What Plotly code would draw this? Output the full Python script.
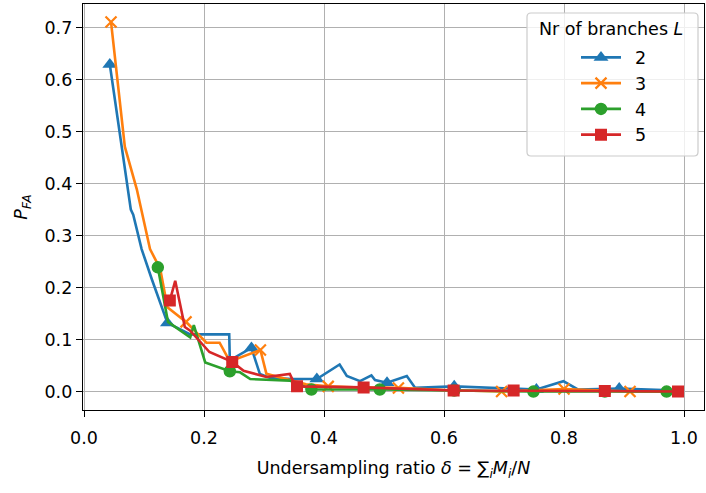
import plotly.graph_objects as go

# ---------------- data ----------------
L2_x = [0.043, 0.063, 0.078, 0.082, 0.096, 0.113, 0.139, 0.177, 0.242, 0.243, 0.279, 0.293,
        0.310, 0.350, 0.388, 0.426, 0.438, 0.460, 0.479, 0.485, 0.505, 0.538, 0.552, 0.617,
        0.754, 0.799, 0.823, 0.892, 0.990]
L2_y = [0.629, 0.465, 0.350, 0.340, 0.274, 0.216, 0.132, 0.110, 0.110, 0.060, 0.084, 0.034,
        0.026, 0.024, 0.024, 0.052, 0.030, 0.020, 0.031, 0.022, 0.017, 0.030, 0.007, 0.010,
        0.004, 0.020, 0.004, 0.006, 0.002]
L2_marks = [0, 6, 10, 14, 20, 23, 24, 27]

L3_x = [0.045, 0.068, 0.088, 0.110, 0.127, 0.139, 0.170, 0.190, 0.204, 0.226, 0.243, 0.294,
        0.304, 0.343, 0.370, 0.407, 0.450, 0.524, 0.600, 0.696, 0.750, 0.800, 0.910, 0.990]
L3_y = [0.711, 0.471, 0.389, 0.274, 0.236, 0.162, 0.134, 0.110, 0.094, 0.094, 0.058, 0.080,
        0.034, 0.022, 0.014, 0.010, 0.008, 0.007, 0.003, 0.000, 0.003, 0.005, 0.000, 0.000]
L3_marks = [0, 6, 11, 15, 17, 19, 21, 22]

L4_x = [0.123, 0.140, 0.177, 0.183, 0.202, 0.243, 0.260, 0.277, 0.343, 0.379, 0.493, 0.617,
        0.749, 0.868, 0.971]
L4_y = [0.239, 0.134, 0.104, 0.128, 0.056, 0.039, 0.037, 0.024, 0.021, 0.004, 0.004, 0.002,
        0.000, 0.000, 0.000]
L4_marks = [0, 5, 9, 10, 11, 12, 13, 14]

L5_x = [0.143, 0.152, 0.168, 0.177, 0.209, 0.238, 0.247, 0.266, 0.304, 0.343, 0.350, 0.355,
        0.466, 0.616, 0.716, 0.868, 0.990]
L5_y = [0.175, 0.213, 0.124, 0.117, 0.076, 0.062, 0.057, 0.040, 0.028, 0.034, 0.017, 0.010,
        0.008, 0.002, 0.002, 0.001, 0.000]
L5_marks = [0, 6, 11, 12, 13, 14, 15, 16]

series_names = ["2", "3", "4", "5"]
x_ticks = [0.0, 0.2, 0.4, 0.6, 0.8, 1.0]
y_ticks = [0.0, 0.1, 0.2, 0.3, 0.4, 0.5, 0.6, 0.7]

# ---------------- styles ----------------
colors = ["#1f77b4", "#ff7f0e", "#2ca02c", "#d62728"]
symbols = ["triangle-up", "x-thin", "circle", "square"]
msizes = [13, 11, 11, 10.5]
mlinew = [0, 2.2, 1.5, 1.5]
FONT = "DejaVu Sans"
FS = 17.5

fig = go.Figure()

all_series = [(L2_x, L2_y, L2_marks), (L3_x, L3_y, L3_marks),
              (L4_x, L4_y, L4_marks), (L5_x, L5_y, L5_marks)]

for k, (xs, ys, marks) in enumerate(all_series):
    sizes = [msizes[k] if i in marks else 0 for i in range(len(xs))]
    fig.add_trace(go.Scatter(
        x=xs, y=ys, mode="lines+markers", showlegend=False,
        line=dict(color=colors[k], width=2.6),
        marker=dict(symbol=symbols[k], size=sizes, color=colors[k], opacity=1,
                    line=dict(color=colors[k], width=mlinew[k])),
        hoverinfo="skip"))

for k in range(4):
    fig.add_trace(go.Scatter(
        x=[None], y=[None], mode="lines+markers", name="\u00a0\u2009" + series_names[k],
        line=dict(color=colors[k], width=2.6),
        marker=dict(symbol=symbols[k], size=msizes[k], color=colors[k], opacity=1,
                    line=dict(color=colors[k], width=mlinew[k]))))

axis_common = dict(
    showline=True, mirror=True, linecolor="black", linewidth=1.4,
    ticks="outside", ticklen=6, tickwidth=1.4, tickcolor="black",
    showgrid=True, gridcolor="#b0b0b0", gridwidth=1.4, zeroline=False,
    tickfont=dict(family=FONT, size=FS, color="black"),
    tickformat=".1f", automargin=False,
)

fig.update_xaxes(range=[-0.0017, 1.0333], tickvals=x_ticks, ticklabelstandoff=6,
                 title=dict(text="Undersampling ratio <i>δ</i> = ∑<sub><i>i</i></sub><i>M</i><sub><i>i</i></sub>/<i>N</i>",
                            font=dict(family=FONT, size=FS, color="black"), standoff=14),
                 **axis_common)
fig.update_yaxes(range=[-0.0355, 0.7455], tickvals=y_ticks,
                 title=dict(text="<i>P</i><sub><i>FA</i></sub>",
                            font=dict(family=FONT, size=FS, color="black"), standoff=12),
                 **axis_common)

# legend frame (matplotlib-like box with rounded corners)
x0, x1 = (527 - 83) / 621, (698 - 83) / 621
y1, y0 = 1 - (13 - 4) / 406, 1 - (156 - 4) / 406
rx, ry = 4 / 621, 4 / 406
path = (f"M{x0+rx},{y1} L{x1-rx},{y1} Q{x1},{y1} {x1},{y1-ry} "
        f"L{x1},{y0+ry} Q{x1},{y0} {x1-rx},{y0} L{x0+rx},{y0} "
        f"Q{x0},{y0} {x0},{y0+ry} L{x0},{y1-ry} Q{x0},{y1} {x0+rx},{y1} Z")
fig.add_shape(type="path", path=path, xref="paper", yref="paper",
              fillcolor="rgba(255,255,255,0.8)", line=dict(color="#cccccc", width=1.2),
              layer="above")
fig.add_annotation(text="Nr of branches <i>L</i>", xref="paper", yref="paper",
                   x=(611 - 83) / 621, y=1 - (29 - 4) / 406, xanchor="center", yanchor="middle",
                   showarrow=False, font=dict(family=FONT, size=FS, color="black"))

fig.update_layout(
    width=706, height=493,
    margin=dict(l=83, r=2, t=4, b=83),
    paper_bgcolor="white", plot_bgcolor="white",
    font=dict(family=FONT, size=FS, color="black"),
    legend=dict(x=(576 - 83) / 621, y=1 - (39.5 - 4) / 406, xanchor="left", yanchor="top",
                bgcolor="rgba(0,0,0,0)", borderwidth=0, itemwidth=40, tracegroupgap=0,
                font=dict(family=FONT, size=FS, color="black")),
)

fig.write_html("out.html", config={"displayModeBar": False},
               post_script="document.body.style.margin='0';document.body.style.padding='0';")
